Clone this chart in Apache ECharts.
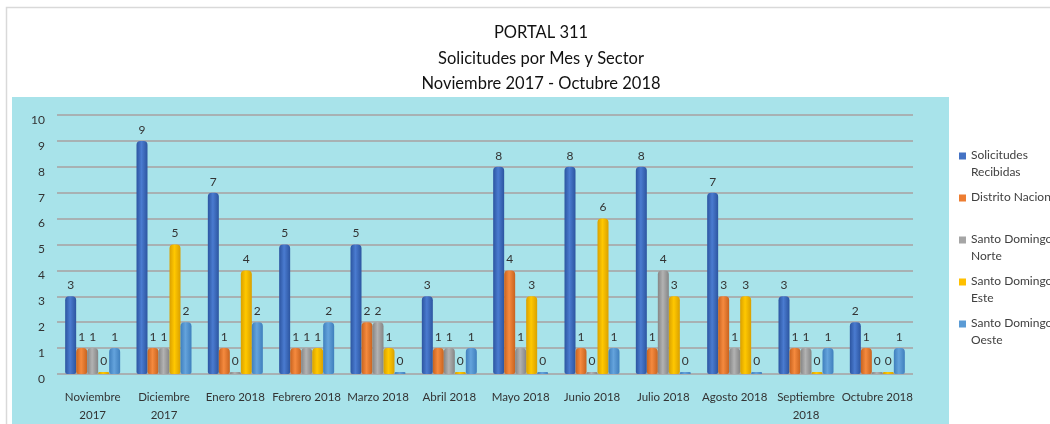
<!DOCTYPE html>
<html lang="es">
<head>
    <meta charset="UTF-8">
    <title>Portal 311 - Solicitudes por Mes y Sector</title>
    <script src="https://cdn.jsdelivr.net/npm/echarts@6/dist/echarts.min.js"></script>
    <style>
        html, body { margin: 0; padding: 0; background: #fff; }
        #chart { width: 1050px; height: 424px; }
    </style>
</head>
<body>
    <div id="chart"></div>
    <script>
        // Datos del gráfico
        const meses = ['Noviembre\n2017', 'Diciembre\n2017', 'Enero 2018', 'Febrero 2018', 'Marzo 2018', 'Abril 2018',
            'Mayo 2018', 'Junio 2018', 'Julio 2018', 'Agosto 2018', 'Septiembre\n2018', 'Octubre 2018'];
        const solicitudesRecibidas = [3, 9, 7, 5, 5, 3, 8, 8, 8, 7, 3, 2];
        const distritoNacional = [1, 1, 1, 1, 2, 1, 4, 1, 1, 3, 1, 1];
        const sdNorte = [1, 1, 0, 1, 2, 1, 1, 0, 4, 1, 1, 0];
        const sdEste = [0, 5, 4, 1, 1, 0, 3, 6, 3, 3, 0, 0];
        const sdOeste = [1, 2, 2, 2, 0, 1, 0, 1, 0, 0, 1, 1];
        const yTicks = [0, 10, 1]; // min, max, intervalo

        const fuente = 'Lato, "Open Sans", sans-serif';

        // gradiente horizontal para simular cilindros
        function cilindro(claro, oscuro) {
            return new echarts.graphic.LinearGradient(0, 0, 1, 0, [
                { offset: 0, color: oscuro },
                { offset: 0.45, color: claro },
                { offset: 1, color: oscuro }
            ]);
        }

        const seriesDef = [
            { name: 'Solicitudes Recibidas', data: solicitudesRecibidas, claro: '#4a7bd0', oscuro: '#2c55a0', leyenda: '#4472c4' },
            { name: 'Distrito Nacional', data: distritoNacional, claro: '#f58a3e', oscuro: '#c8631f', leyenda: '#ed7d31' },
            { name: 'Santo Domingo Norte', data: sdNorte, claro: '#b2b2b2', oscuro: '#858585', leyenda: '#a5a5a5' },
            { name: 'Santo Domingo Este', data: sdEste, claro: '#ffc800', oscuro: '#d9a000', leyenda: '#ffc000' },
            { name: 'Santo Domingo Oeste', data: sdOeste, claro: '#64a3dc', oscuro: '#3f7fbd', leyenda: '#5b9bd5' }
        ];

        const nombresLeyenda = {
            'Solicitudes Recibidas': 'Solicitudes\nRecibidas',
            'Distrito Nacional': 'Distrito Nacional\n ',
            'Santo Domingo Norte': 'Santo Domingo\nNorte',
            'Santo Domingo Este': 'Santo Domingo\nEste',
            'Santo Domingo Oeste': 'Santo Domingo\nOeste'
        };

        var myChart = echarts.init(document.getElementById('chart'));

        var option = {
            animation: false,
            backgroundColor: '#ffffff',
            textStyle: { fontFamily: fuente },
            graphic: [
                {
                    type: 'rect', z: -10, silent: true,
                    shape: { x: 6.5, y: 7.5, width: 1060, height: 430 },
                    style: { fill: '#ffffff', stroke: '#d9d9d9', lineWidth: 1.5 }
                },
                {
                    type: 'rect', z: -9, silent: true,
                    shape: { x: 12, y: 97, width: 937, height: 340 },
                    style: { fill: '#a8e3ea' }
                }
            ],
            title: {
                text: 'PORTAL 311\nSolicitudes por Mes y Sector\nNoviembre 2017 - Octubre 2018',
                left: 536,
                top: 15,
                textAlign: 'center',
                textStyle: {
                    fontFamily: fuente,
                    fontSize: 16.5,
                    fontWeight: 'normal',
                    lineHeight: 25.5,
                    color: '#111'
                }
            },
            legend: {
                orient: 'vertical',
                left: 959,
                top: 147,
                padding: 0,
                itemGap: 8,
                itemWidth: 7,
                itemHeight: 23,
                icon: 'path://M0,0H7V7H0Z M0,23H0.05V23.05H0Z',
                formatter: name => nombresLeyenda[name],
                textStyle: { fontFamily: fuente, fontSize: 12, lineHeight: 17, color: '#404040' },
                data: seriesDef.map(s => ({ name: s.name, itemStyle: { color: s.leyenda } }))
            },
            grid: {
                left: 57,
                right: 137,
                top: 115,
                bottom: 49,
                containLabel: false
            },
            xAxis: {
                type: 'category',
                data: meses,
                axisLine: { show: false },
                axisTick: { show: false },
                axisLabel: {
                    interval: 0,
                    margin: 14,
                    fontSize: 11.5,
                    lineHeight: 18,
                    color: '#333'
                }
            },
            yAxis: {
                type: 'value',
                min: yTicks[0],
                max: yTicks[1],
                interval: yTicks[2],
                axisLine: { show: false },
                axisTick: { show: false },
                axisLabel: { margin: 12, fontSize: 12, color: '#333', verticalAlign: 'top', lineHeight: 10 },
                splitLine: { lineStyle: { color: '#a8a0a0', width: 1.5 } }
            },
            series: seriesDef.map(s => ({
                name: s.name,
                type: 'bar',
                data: s.data,
                barWidth: 11,
                barGap: '0%',
                barMinHeight: 2,
                itemStyle: {
                    color: cilindro(s.claro, s.oscuro),
                    borderRadius: [4, 4, 2, 2]
                },
                label: {
                    show: true,
                    position: 'top',
                    distance: 5,
                    fontFamily: fuente,
                    fontSize: 12,
                    color: '#333'
                }
            }))
        };

        myChart.setOption(option);

        window.addEventListener('resize', function () {
            myChart.resize();
        });
    </script>
</body>
</html>
